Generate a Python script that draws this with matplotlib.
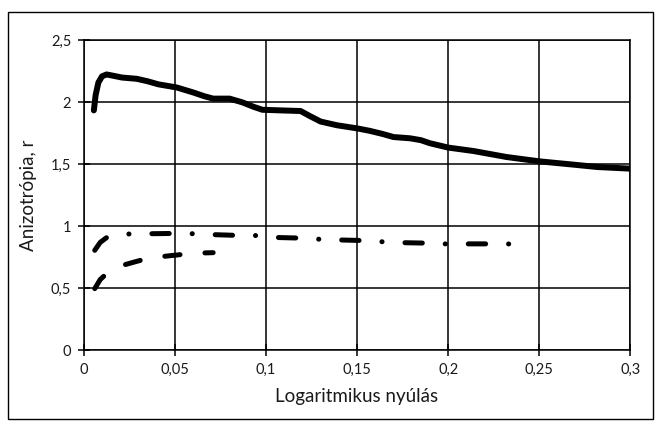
import matplotlib
matplotlib.use('Agg')
import matplotlib.pyplot as plt
from matplotlib.patches import Rectangle
from matplotlib.ticker import FuncFormatter

plt.rcParams['font.family'] = ['Lato', 'DejaVu Sans']
plt.rcParams['lines.scale_dashes'] = False

# adatok
x_folyt = [0.0055, 0.0065, 0.0080, 0.0100, 0.0125, 0.016, 0.021, 0.029, 0.035, 0.041,
           0.051, 0.060, 0.066, 0.071, 0.080, 0.087, 0.093, 0.098, 0.108, 0.119,
           0.124, 0.130, 0.139, 0.150, 0.157, 0.164, 0.170, 0.179, 0.185, 0.190,
           0.200, 0.214, 0.232, 0.250, 0.269, 0.282, 0.300]
r_folyt = [1.935, 2.06, 2.16, 2.21, 2.225, 2.215, 2.20, 2.19, 2.17, 2.145,
           2.12, 2.08, 2.05, 2.03, 2.03, 2.00, 1.965, 1.94, 1.935, 1.93,
           1.89, 1.845, 1.815, 1.79, 1.77, 1.745, 1.72, 1.71, 1.695, 1.67,
           1.635, 1.607, 1.559, 1.524, 1.497, 1.478, 1.465]

x_pontvonal = [0.006, 0.009, 0.013, 0.026, 0.037, 0.049, 0.060, 0.072, 0.083, 0.096,
               0.107, 0.118, 0.130, 0.142, 0.153, 0.165, 0.177, 0.188, 0.200, 0.212,
               0.224, 0.238]
r_pontvonal = [0.806, 0.87, 0.914, 0.94, 0.94, 0.942, 0.94, 0.932, 0.927, 0.925,
               0.909, 0.905, 0.895, 0.889, 0.885, 0.874, 0.867, 0.864, 0.857, 0.858,
               0.858, 0.857]

x_szaggatott = [0.006, 0.009, 0.0125, 0.0225, 0.0335, 0.0445, 0.0555, 0.066, 0.071]
r_szaggatott = [0.497, 0.57, 0.618, 0.69, 0.735, 0.758, 0.775, 0.785, 0.787]

xticks = [0, 0.05, 0.1, 0.15, 0.2, 0.25, 0.3]
yticks = [0, 0.5, 1, 1.5, 2, 2.5]

fig = plt.figure(figsize=(6.6, 4.25), dpi=100)
ax = fig.add_axes([0.127, 0.176, 0.828, 0.729])

# keret a diagram korul
fig.patches.append(Rectangle((0.012, 0.014), 0.977, 0.958, transform=fig.transFigure,
                             fill=False, edgecolor='black', linewidth=1.0))

ax.plot(x_folyt, r_folyt, color='black', linewidth=4.3, solid_capstyle='round',
        solid_joinstyle='round')
ax.plot(x_pontvonal, r_pontvonal, color='black', linewidth=3.6,
        linestyle=(0, (12.5, 16.5, 0.1, 16.5)), dash_capstyle='round')
ax.plot(x_szaggatott, r_szaggatott, color='black', linewidth=3.6,
        linestyle=(0, (11, 18)), dash_capstyle='round')

ax.set_xlim(0, 0.3)
ax.set_ylim(0, 2.5)
ax.set_xticks(xticks)
ax.set_yticks(yticks)
vesszo = FuncFormatter(lambda v, p: ('%g' % v).replace('.', ','))
ax.xaxis.set_major_formatter(vesszo)
ax.yaxis.set_major_formatter(vesszo)
ax.grid(True, color='black', linewidth=1.1)
ax.set_axisbelow(True)
for s in ax.spines.values():
    s.set_linewidth(1.1)
ax.tick_params(direction='inout', length=8, width=1.1, labelsize=10.5,
               labelcolor='#1a1a1a', pad=5)

ax.set_xlabel('Logaritmikus nyúlás', fontsize=13.5, color='#1a1a1a', labelpad=8)
ax.set_ylabel('Anizotrópia, r', fontsize=13.5, color='#1a1a1a', labelpad=10)

fig.savefig('out.png', dpi=100)
